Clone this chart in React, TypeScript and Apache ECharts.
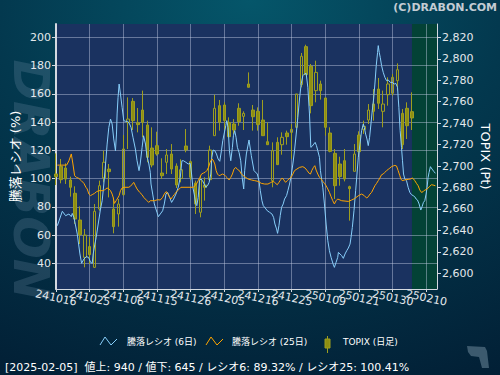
import React, { useEffect, useRef } from 'react';
import * as echarts from 'echarts';

// ---- tick labels / axes ----
const dateLabels = ['241016', '241025', '241106', '241115', '241126', '241205', '241216', '241225', '250109', '250121', '250130', '250210'];
const xTickValues = [0, 7, 14, 21, 28, 35, 42, 49, 56, 63, 70, 77];
const leftTicks = [40, 60, 80, 100, 120, 140, 160, 180, 200];
const rightTicks = [2600, 2620, 2640, 2660, 2680, 2700, 2720, 2740, 2760, 2780, 2800, 2820];
const lastDataIndex = 74;
const xMax = 79.2;

// ---- TOPIX daily candles: [open, close, low, high], index = trading day ----
const topixOHLC = [
  [2692.6, 2690.1, 2682.3, 2711.8], [2699.7, 2687.3, 2683.9, 2706.6], [2698.2, 2687.9, 2683.3, 2702.5],
  [2687.0, 2680.2, 2671.5, 2690.1], [2674.6, 2650.6, 2646.0, 2681.1], [2649.7, 2636.0, 2627.3, 2662.4],
  [2614.9, 2635.7, 2605.6, 2641.3], [2624.9, 2617.4, 2608.7, 2633.6], [2605.6, 2657.8, 2605.0, 2664.6],
  [2660.0, 2681.7, 2658.4, 2686.4], [2688.9, 2703.5, 2684.8, 2714.3], [2697.2, 2694.8, 2670.8, 2701.9],
  [2660.0, 2643.5, 2637.3, 2670.8], [2655.3, 2664.6, 2643.5, 2669.3], [2673.3, 2715.9, 2672.4, 2728.9],
  [2740.7, 2743.8, 2715.9, 2764.0], [2760.3, 2742.3, 2733.6, 2763.4], [2740.4, 2738.6, 2731.4, 2754.1],
  [2752.2, 2740.7, 2726.8, 2770.3], [2738.3, 2708.1, 2703.5, 2742.3], [2716.8, 2701.0, 2698.8, 2736.1],
  [2719.0, 2711.2, 2709.7, 2732.0], [2693.5, 2691.0, 2687.9, 2707.2], [2703.5, 2710.3, 2692.6, 2715.9],
  [2711.2, 2697.2, 2692.6, 2720.5], [2700.0, 2682.3, 2679.5, 2702.5], [2688.5, 2696.6, 2684.8, 2706.3],
  [2718.7, 2715.0, 2712.8, 2734.5], [2704.1, 2689.5, 2687.0, 2705.0], [2684.2, 2664.6, 2655.3, 2686.4],
  [2656.9, 2687.9, 2652.2, 2691.0], [2682.3, 2680.2, 2667.7, 2689.5], [2687.3, 2715.0, 2686.4, 2719.0],
  [2728.3, 2753.8, 2728.3, 2766.5], [2756.3, 2740.7, 2733.0, 2761.6], [2756.9, 2742.3, 2733.6, 2759.4],
  [2740.7, 2727.4, 2726.8, 2745.4], [2739.2, 2733.6, 2729.9, 2743.8], [2753.8, 2741.4, 2737.6, 2758.5],
  [2746.3, 2749.1, 2733.6, 2751.0], [2776.5, 2773.4, 2773.4, 2787.3], [2752.2, 2746.0, 2733.0, 2756.9],
  [2751.0, 2738.6, 2733.0, 2754.7], [2742.9, 2728.3, 2728.3, 2761.6], [2722.7, 2719.9, 2719.9, 2740.7],
  [2686.4, 2714.3, 2680.2, 2722.1], [2722.1, 2701.3, 2701.3, 2726.8], [2719.9, 2726.8, 2710.6, 2731.4],
  [2730.8, 2727.4, 2719.9, 2733.0], [2731.4, 2734.2, 2706.6, 2739.2], [2736.1, 2767.2, 2736.1, 2767.2],
  [2775.9, 2802.3, 2773.4, 2805.4], [2811.3, 2785.2, 2785.2, 2813.1], [2793.0, 2756.3, 2749.1, 2795.1],
  [2770.3, 2787.3, 2759.4, 2798.2], [2776.5, 2770.3, 2761.9, 2779.6], [2763.4, 2736.1, 2728.3, 2764.0],
  [2730.8, 2713.7, 2712.8, 2736.1], [2711.8, 2681.7, 2669.3, 2715.9], [2701.9, 2690.1, 2681.7, 2708.7],
  [2705.0, 2687.9, 2685.7, 2715.9], [2680.8, 2678.9, 2649.1, 2681.7], [2695.1, 2711.2, 2695.1, 2720.5],
  [2728.9, 2713.4, 2708.1, 2732.4], [2734.2, 2737.0, 2729.9, 2742.3], [2742.9, 2752.2, 2739.2, 2757.8],
  [2757.8, 2751.0, 2742.3, 2771.8], [2771.8, 2758.5, 2753.2, 2782.1], [2751.0, 2757.8, 2736.1, 2770.3],
  [2766.5, 2776.5, 2756.3, 2782.7], [2767.8, 2782.7, 2765.6, 2785.8], [2779.6, 2789.8, 2770.3, 2795.7],
  [2749.1, 2719.9, 2715.9, 2753.2], [2753.8, 2737.6, 2725.2, 2759.4], [2750.7, 2744.8, 2733.6, 2768.7],
];

// ---- advance/decline ratio (6 day): [day position, %] ----
const ratio6 = [
  [0.28, 66.6], [1.31, 76.8], [2.0, 73.7], [2.69, 74.9], [3.18, 73.0], [3.38, 75.3], [3.73, 72.5], [4.42, 60.7],
  [4.97, 46.6], [5.32, 40.0], [5.8, 43.0], [6.28, 44.7], [6.77, 44.2], [7.18, 40.7], [7.53, 40.0], [7.73, 46.6],
  [8.08, 53.6], [8.36, 58.4], [8.77, 67.8], [9.25, 78.4], [9.6, 84.3], [9.94, 96.1], [10.3, 110.3], [10.63, 124.4],
  [10.98, 136.2], [11.33, 142.1], [11.67, 138.6], [12.0, 128.0], [12.36, 119.7], [12.57, 131.5], [12.7, 145.7],
  [12.9, 157.5], [13.12, 166.9], [13.4, 159.8], [13.74, 150.4], [14.09, 141.0], [14.43, 140.5], [14.9, 140.5],
  [15.3, 138.6], [15.6, 136.2], [16.0, 129.2], [16.5, 120.9], [16.85, 112.6], [17.26, 105.6], [17.5, 110.3],
  [17.9, 122.1], [18.2, 130.3], [18.6, 124.4], [18.9, 116.2], [19.3, 110.3], [19.6, 104.4], [19.75, 96.1],
  [20.1, 89.0], [20.44, 82.0], [20.99, 76.1], [21.27, 73.0], [21.68, 74.9], [22.17, 77.2], [22.51, 82.0],
  [22.86, 89.0], [23.2, 90.2], [23.62, 86.7], [24.03, 83.1], [24.45, 85.5], [24.93, 89.0], [25.41, 93.8],
  [25.83, 100.8], [26.17, 112.6], [26.5, 112.6], [27.0, 111.5], [27.49, 110.3], [27.9, 110.8], [28.18, 103.2],
  [28.45, 93.8], [28.73, 89.0], [29.07, 82.0], [29.28, 80.8], [29.56, 86.7], [29.83, 98.5], [30.1, 99.7],
  [30.45, 98.5], [30.8, 96.1], [31.15, 93.8], [31.49, 94.9], [31.84, 97.3], [32.18, 103.2], [32.39, 115.0],
  [32.66, 120.2], [33.01, 119.7], [33.36, 117.4], [33.7, 113.8], [34.04, 112.2], [34.39, 119.7], [34.67, 126.8],
  [34.94, 131.5], [35.29, 137.4], [35.5, 141.0], [35.77, 136.2], [36.05, 119.7], [36.33, 112.6], [36.67, 122.1],
  [36.88, 130.3], [37.15, 133.9], [37.43, 129.2], [37.7, 122.1], [38.05, 118.5], [38.4, 112.6], [38.7, 100.8],
  [39.02, 92.6], [39.22, 105.6], [39.57, 117.4], [40.12, 127.3], [40.6, 116.2], [41.16, 105.6], [41.85, 103.2],
  [42.19, 98.5], [42.47, 91.4], [42.81, 84.3], [43.09, 80.8], [43.5, 79.1], [43.92, 77.2], [44.4, 76.1],
  [44.89, 74.9], [45.23, 72.5], [45.51, 67.8], [45.85, 64.3], [46.06, 61.2], [46.34, 66.6], [46.61, 73.7],
  [46.89, 79.6], [47.23, 82.0], [47.51, 85.5], [47.93, 87.9], [48.2, 91.4], [48.55, 96.1], [48.89, 102.0],
  [49.24, 110.3], [49.58, 119.7], [49.93, 131.5], [50.27, 143.3], [50.62, 156.3], [50.96, 166.9], [51.31, 172.8],
  [51.66, 174.0], [52.0, 174.5], [52.35, 164.6], [52.69, 145.7], [52.97, 122.1], [53.24, 122.8], [53.59, 124.4],
  [53.87, 125.6], [54.14, 123.3], [54.42, 119.7], [54.77, 115.0], [54.97, 105.6], [55.25, 98.5], [55.46, 93.8],
  [55.8, 82.0], [56.15, 67.8], [56.5, 56.0], [56.84, 48.9], [57.18, 44.2], [57.6, 39.5], [57.87, 37.1],
  [58.22, 40.7], [58.56, 44.2], [58.7, 47.7], [59.04, 46.6], [59.39, 45.4], [59.73, 43.5], [60.08, 46.6],
  [60.43, 48.9], [60.77, 50.8], [61.12, 53.6], [61.33, 58.4], [61.6, 65.4], [61.94, 77.2], [62.29, 91.4],
  [62.57, 103.2], [62.84, 115.0], [63.19, 124.4], [63.53, 133.9], [63.88, 138.6], [64.09, 136.2], [64.36, 131.5],
  [64.64, 128.0], [64.91, 123.3], [65.19, 129.2], [65.47, 138.6], [65.74, 148.0], [66.02, 156.3], [66.29, 166.9],
  [66.57, 179.9], [66.85, 189.3], [66.99, 194.1], [67.19, 189.3], [67.4, 185.8], [67.68, 179.9], [68.02, 175.2],
  [68.37, 171.6], [68.71, 169.3], [69.06, 169.8], [69.47, 168.1], [69.89, 168.1], [70.3, 166.9], [70.64, 167.4],
  [70.99, 164.6], [71.27, 150.4], [71.54, 133.9], [71.82, 122.1], [72.03, 112.6], [72.24, 103.2], [72.51, 99.7],
  [72.86, 98.5], [73.2, 93.8], [73.55, 90.2], [73.89, 88.6], [74.24, 87.9], [74.58, 87.1], [74.86, 85.5],
  [75.14, 84.8], [75.48, 82.0], [75.83, 77.7], [76.1, 80.1], [76.38, 83.1], [76.66, 84.3], [76.93, 89.0],
  [77.14, 93.8], [77.35, 100.8], [77.55, 104.4], [77.83, 108.4], [78.17, 106.7], [78.52, 105.1], [78.86, 103.7],
];

// ---- advance/decline ratio (25 day): [day position, %] ----
const ratio25 = [
  [0.28, 109.5], [2.21, 109.5], [2.69, 112.6], [3.18, 117.4], [3.52, 110.3], [3.87, 102.0], [4.28, 100.8],
  [4.76, 100.1], [5.25, 98.5], [5.8, 96.6], [6.22, 93.8], [6.49, 92.6], [6.84, 89.0], [7.18, 87.9], [7.53, 88.6],
  [8.01, 89.5], [8.42, 90.7], [8.91, 91.4], [9.94, 91.4], [10.29, 92.6], [10.63, 93.3], [10.98, 92.6],
  [11.33, 91.4], [11.67, 89.0], [11.88, 86.7], [12.15, 82.4], [12.5, 84.3], [12.84, 86.2], [13.12, 87.9],
  [13.4, 91.4], [13.74, 93.3], [14.23, 93.8], [15.12, 93.8], [15.47, 94.5], [15.88, 96.1], [16.16, 97.3],
  [16.5, 94.9], [16.85, 92.6], [17.4, 90.2], [17.88, 88.6], [18.23, 86.7], [18.57, 85.5], [18.92, 84.3],
  [19.27, 83.1], [19.6, 84.3], [20.44, 84.3], [21.13, 85.0], [21.68, 84.8], [22.17, 86.7], [22.51, 89.0],
  [22.86, 90.7], [23.07, 90.2], [23.34, 88.6], [23.62, 86.7], [23.89, 85.5], [24.24, 87.2], [24.58, 88.6],
  [24.93, 90.2], [25.28, 91.4], [25.62, 92.6], [25.97, 93.8], [28.59, 93.8], [28.87, 94.9], [29.28, 96.6],
  [29.56, 98.5], [29.9, 100.8], [30.25, 103.2], [30.66, 103.9], [31.0, 104.4], [31.35, 105.6], [31.7, 107.9],
  [32.04, 111.5], [32.39, 113.8], [32.66, 113.1], [33.01, 110.3], [33.29, 105.6], [33.56, 103.2], [33.91, 102.0],
  [34.25, 102.5], [34.6, 103.2], [34.94, 102.7], [35.29, 101.5], [35.63, 100.4], [35.98, 99.0], [36.33, 100.8],
  [36.67, 103.2], [37.01, 106.7], [37.36, 107.9], [37.7, 106.5], [38.12, 105.6], [38.53, 103.2], [39.22, 101.3],
  [39.91, 99.7], [40.6, 99.0], [41.3, 98.5], [41.99, 98.0], [42.68, 96.6], [43.37, 96.1], [44.06, 96.1],
  [44.61, 97.1], [45.09, 98.0], [45.44, 97.3], [45.99, 95.6], [46.34, 97.3], [46.68, 99.0], [47.03, 100.4],
  [47.37, 99.0], [47.72, 97.3], [48.07, 98.5], [48.41, 99.7], [48.89, 100.8], [49.24, 103.2], [49.58, 105.6],
  [50.07, 106.7], [50.62, 107.9], [51.31, 108.4], [51.79, 107.4], [52.21, 105.6], [52.62, 103.7], [52.9, 103.2],
  [53.17, 105.6], [53.52, 107.9], [53.8, 109.1], [54.07, 106.0], [54.42, 103.2], [54.77, 100.8], [55.11, 99.7],
  [55.46, 98.0], [55.8, 96.6], [56.15, 94.9], [56.5, 92.6], [56.84, 90.2], [57.18, 87.2], [57.53, 84.3],
  [57.87, 82.0], [58.22, 84.3], [58.56, 85.5], [59.39, 84.3], [60.77, 83.8], [61.46, 84.8], [62.01, 85.7],
  [62.98, 88.1], [63.53, 89.0], [64.09, 87.9], [64.57, 86.2], [64.91, 87.1], [65.26, 89.0], [65.61, 90.2],
  [65.95, 92.6], [66.29, 94.9], [66.64, 96.6], [66.99, 98.5], [67.33, 100.4], [67.68, 102.7], [68.02, 103.2],
  [68.37, 104.4], [68.71, 105.6], [69.06, 106.5], [69.4, 107.4], [69.75, 108.4], [70.1, 108.9], [70.44, 109.3],
  [70.78, 108.9], [71.13, 105.6], [71.47, 102.0], [71.68, 99.7], [71.96, 98.5], [72.51, 99.0], [73.2, 99.4],
  [73.76, 99.7], [74.03, 100.4], [74.31, 99.7], [74.58, 98.5], [74.93, 96.6], [75.28, 94.9], [75.62, 91.9],
  [75.97, 90.2], [76.31, 90.7], [76.66, 91.9], [77.0, 92.1], [77.35, 93.3], [77.69, 94.5], [78.04, 95.6],
  [78.38, 95.4], [78.86, 94.9],
];

// ---- status line values ----
const statusDate = '2025-02-05';
const advances = 940;
const declines = 645;
const ratio6Last = '89.32';
const ratio25Last = '100.41';

const FONT = '"DejaVu Sans", "Noto Sans CJK JP", sans-serif';
const GRID_COLOR = 'rgba(195,205,228,0.45)';
const AXIS_COLOR = '#d4d9e0';
const LABEL_COLOR = '#e4e8ec';
const BLUE = '#87cefa';
const ORANGE = '#ffa500';
const OLIVE_FILL = '#8e8e12';
const OLIVE_LINE = '#9e9e1e';

export default function App() {
  const ref = useRef<HTMLDivElement>(null);

  useEffect(() => {
    if (!ref.current) return;
    const chart = echarts.init(ref.current, null, { renderer: 'svg' });
    const candleData = topixOHLC.map((d, i) => [i, d[0], d[1], d[2], d[3]]);
    const statusText = `[${statusDate}]  値上: ${advances} / 値下: ${declines} / レシオ6: ${ratio6Last}% / レシオ25: ${ratio25Last}%`;
    // split the date labels over two overlaid axes so that neighbouring rotated labels are not auto-hidden
    const evenTicks = xTickValues.filter((_, k) => k % 2 === 0);
    const oddTicks = xTickValues.filter((_, k) => k % 2 === 1);
    const labelStyle = {
      formatter: (v: number) => dateLabels[Math.round(v / 7)] ?? '',
      showMinLabel: true, showMaxLabel: true, hideOverlap: false,
      rotate: -12, align: 'center', verticalAlign: 'middle', margin: 9,
      color: LABEL_COLOR, fontSize: 11, fontFamily: FONT,
    };

    const option: any = {
      animation: false,
      backgroundColor: {
        type: 'radial', x: 0.5, y: 0, r: 1.15,
        colorStops: [
          { offset: 0, color: '#05566a' },
          { offset: 0.45, color: '#03384e' },
          { offset: 1, color: '#021e34' },
        ],
      },
      grid: { left: 56, right: 62, top: 24, bottom: 86 },
      xAxis: [
        {
          type: 'value', min: 0, max: xMax, position: 'bottom',
          axisLine: { show: true, onZero: false, lineStyle: { color: AXIS_COLOR, width: 1 } },
          axisTick: { show: true, length: 3, customValues: xTickValues, lineStyle: { color: AXIS_COLOR } },
          axisLabel: { ...labelStyle, customValues: evenTicks },
          splitLine: { show: true, lineStyle: { color: GRID_COLOR, width: 1 } },
        },
        {
          type: 'value', min: 0, max: xMax, position: 'bottom', offset: 0,
          axisLine: { show: false, onZero: false },
          axisTick: { show: false, customValues: oddTicks },
          axisLabel: { ...labelStyle, customValues: oddTicks },
          splitLine: { show: false },
        },
      ],
      yAxis: [
        {
          type: 'value', position: 'left', min: 21.8, max: 209.4,
          name: '騰落レシオ (%)', nameLocation: 'middle', nameGap: 34, nameMoveOverlap: false,
          nameTextStyle: { color: '#ffffff', fontSize: 13, fontFamily: FONT },
          axisLine: { show: true, onZero: false, lineStyle: { color: AXIS_COLOR, width: 2 } },
          axisTick: { show: true, length: 4, customValues: leftTicks, lineStyle: { color: AXIS_COLOR } },
          axisLabel: { customValues: leftTicks, color: LABEL_COLOR, fontSize: 11, fontFamily: FONT, margin: 5 },
          splitLine: { show: true, lineStyle: { color: GRID_COLOR, width: 1 } },
        },
        {
          type: 'value', position: 'right', min: 2585.4, max: 2832.4,
          name: 'TOPIX (Pt)', nameLocation: 'middle', nameRotate: -90, nameGap: 42, nameMoveOverlap: false,
          nameTextStyle: { color: '#ffffff', fontSize: 13, fontFamily: FONT },
          axisLine: { show: true, onZero: false, lineStyle: { color: AXIS_COLOR, width: 1 } },
          axisTick: { show: true, length: 4, customValues: rightTicks, lineStyle: { color: AXIS_COLOR } },
          axisLabel: {
            customValues: rightTicks, color: LABEL_COLOR, fontSize: 11, fontFamily: FONT, margin: 5,
            formatter: (v: number) => v.toLocaleString('en-US'),
          },
          splitLine: { show: false },
        },
      ],
      series: [
        {
          type: 'candlestick', name: 'TOPIX (日足)', xAxisIndex: 0, yAxisIndex: 1,
          data: candleData, encode: { x: 0, y: [1, 2, 3, 4] },
          barWidth: 3,
          itemStyle: {
            color: 'rgba(0,0,0,0)', color0: OLIVE_FILL,
            borderColor: OLIVE_LINE, borderColor0: OLIVE_LINE, borderWidth: 1,
          },
          markArea: {
            silent: true, z: -1,
            data: [
              [{ xAxis: 0, itemStyle: { color: '#1a3260' } }, { xAxis: lastDataIndex }],
              [{ xAxis: lastDataIndex, itemStyle: { color: '#034236' } }, { xAxis: xMax }],
            ],
          },
        },
        {
          type: 'line', name: '騰落レシオ (6日)', xAxisIndex: 0, yAxisIndex: 0, data: ratio6,
          showSymbol: false, lineStyle: { color: BLUE, width: 1 }, itemStyle: { color: BLUE },
        },
        {
          type: 'line', name: '騰落レシオ (25日)', xAxisIndex: 0, yAxisIndex: 0, data: ratio25,
          showSymbol: false, lineStyle: { color: ORANGE, width: 1 }, itemStyle: { color: ORANGE },
        },
      ],
      graphic: [
        {
          type: 'text', x: 31, y: 180, rotation: -Math.PI / 2, z: -10, silent: true,
          style: {
            text: 'DRABON', fill: 'rgba(120,150,175,0.24)', fontSize: 50, fontWeight: 'bold',
            fontStyle: 'italic', fontFamily: '"DejaVu Sans"', align: 'center', verticalAlign: 'middle',
          },
        },
        {
          type: 'text', right: 3, top: 2,
          style: { text: '(C)DRABON.COM', fill: '#c3ccd4', fontSize: 11, fontWeight: 'bold', fontFamily: FONT },
        },
        {
          type: 'polyline', shape: { points: [[100, 345], [105, 337], [111, 345], [117, 339]] },
          style: { stroke: BLUE, fill: 'none', lineWidth: 1 },
        },
        {
          type: 'text', x: 127, y: 342,
          style: { text: '騰落レシオ (6日)', fill: '#ffffff', fontSize: 9, fontFamily: FONT, verticalAlign: 'middle' },
        },
        {
          type: 'polyline', shape: { points: [[206, 345], [211, 337], [217, 345], [223, 339]] },
          style: { stroke: ORANGE, fill: 'none', lineWidth: 1 },
        },
        {
          type: 'text', x: 232, y: 342,
          style: { text: '騰落レシオ (25日)', fill: '#ffffff', fontSize: 9, fontFamily: FONT, verticalAlign: 'middle' },
        },
        {
          type: 'line', shape: { x1: 327.5, y1: 336, x2: 327.5, y2: 353 },
          style: { stroke: OLIVE_LINE, lineWidth: 1 },
        },
        {
          type: 'rect', shape: { x: 325, y: 339, width: 5, height: 9 },
          style: { fill: OLIVE_FILL, stroke: OLIVE_LINE, lineWidth: 1 },
        },
        {
          type: 'text', x: 343, y: 342,
          style: { text: 'TOPIX (日足)', fill: '#ffffff', fontSize: 9, fontFamily: FONT, verticalAlign: 'middle' },
        },
        {
          type: 'text', x: 5, y: 367,
          style: { text: statusText, fill: '#ffffff', fontSize: 11, fontFamily: FONT, verticalAlign: 'middle' },
        },
        {
          type: 'polygon', silent: true,
          shape: { points: [[467, 346], [485, 347], [487, 351], [489, 368], [482, 368], [479, 357], [471, 356], [468, 352]] },
          style: { fill: '#3c5a6e' },
        },
      ],
    };

    chart.setOption(option);
    return () => chart.dispose();
  }, []);

  return <div ref={ref} style={{ position: 'absolute', left: 0, top: 0, width: 500, height: 375 }} />;
}
